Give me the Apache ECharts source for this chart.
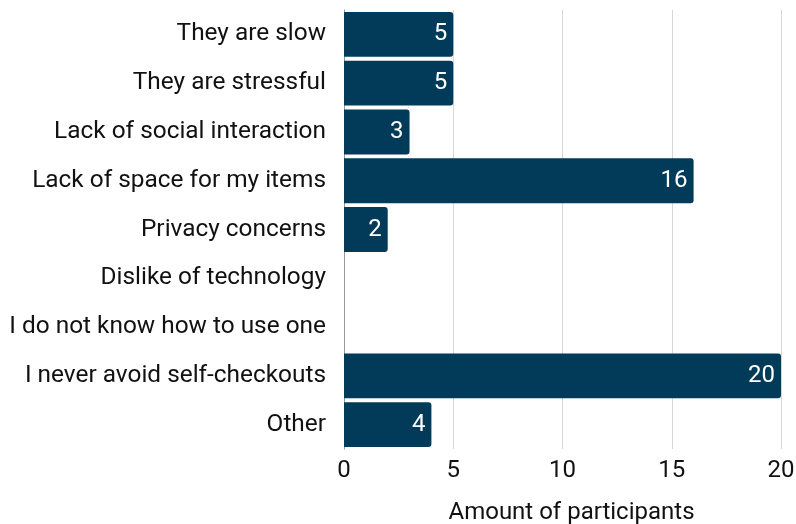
<!DOCTYPE html>
<html>
<head>
<meta charset="utf-8">
<script src="https://cdn.jsdelivr.net/npm/echarts@6/dist/echarts.min.js"></script>
<style>
  html, body { margin: 0; padding: 0; background: #fff; }
  #chart { width: 796px; height: 524px; }
</style>
</head>
<body>
<div id="chart"></div>
<script>
// Reasons for avoiding self-checkouts, top to bottom
const categories = [
  'They are slow',
  'They are stressful',
  'Lack of social interaction',
  'Lack of space for my items',
  'Privacy concerns',
  'Dislike of technology',
  'I do not know how to use one',
  'I never avoid self-checkouts',
  'Other'
];
const counts = [5, 5, 3, 16, 2, 0, 0, 20, 4];
const axisName = 'Amount of participants';

const chart = echarts.init(document.getElementById('chart'));
chart.setOption({
  animation: false,
  textStyle: { fontFamily: 'Roboto' },
  grid: { left: 344, right: 15, top: 10, bottom: 75, containLabel: false, outerBoundsMode: 'none' },
  xAxis: {
    type: 'value',
    min: 0, max: 20, interval: 5,
    name: axisName,
    nameLocation: 'middle',
    nameGap: 52,
    nameTextStyle: { fontSize: 24, color: '#111', fontFamily: 'Roboto', padding: [0, 0, 0, 18] },
    axisLabel: { fontSize: 24, color: '#111', margin: 10 },
    axisLine: { show: false },
    axisTick: { show: false },
    splitLine: { lineStyle: { color: '#d6d6d6', width: 1 } }
  },
  yAxis: {
    type: 'category',
    data: categories,
    inverse: true,
    axisLabel: { fontSize: 24.4, color: '#111', margin: 18 },
    axisLine: { show: true, lineStyle: { color: '#9a9a9a', width: 1 } },
    axisTick: { show: false }
  },
  series: [{
    type: 'bar',
    data: counts,
    barCategoryGap: '8%',
    itemStyle: { color: '#023b5a', borderRadius: [0, 3, 3, 0] },
    label: {
      show: true,
      position: 'insideRight',
      distance: 6,
      color: '#fff',
      fontSize: 24,
      formatter: p => p.value > 0 ? p.value : ''
    }
  }]
});
</script>
</body>
</html>
